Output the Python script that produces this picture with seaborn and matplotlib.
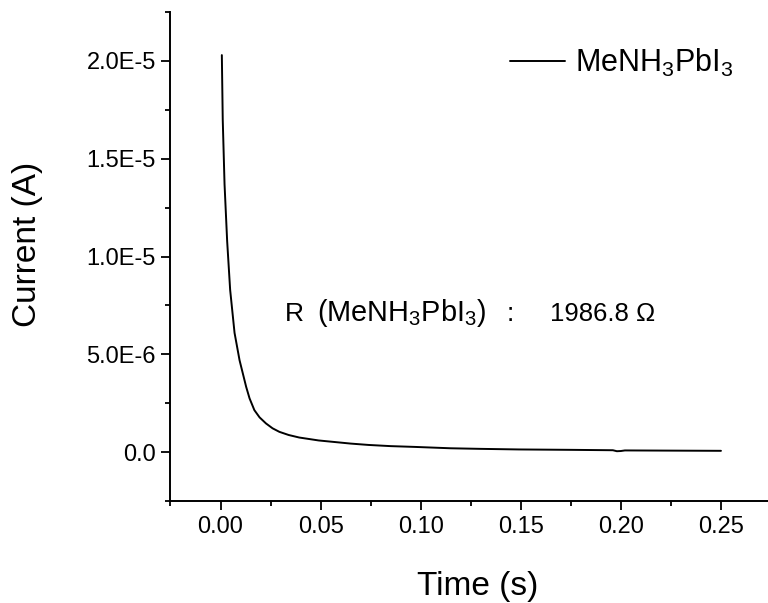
import numpy as np
import pandas as pd
import matplotlib
matplotlib.use("Agg")
import matplotlib.pyplot as plt
import seaborn as sns
from matplotlib.ticker import MultipleLocator, FuncFormatter

# transient current (time in s, current in A)
time_s = [0.00065, 0.0011, 0.002, 0.0033, 0.0048, 0.007, 0.0095, 0.0128,
          0.0145, 0.0169, 0.0195, 0.0227, 0.026, 0.0294, 0.034, 0.0393,
          0.049, 0.056, 0.065, 0.074, 0.085, 0.097, 0.115, 0.13, 0.149,
          0.175, 0.196, 0.198, 0.2, 0.202, 0.225, 0.25]
current_uA = [20.3, 17.0, 13.7, 10.8, 8.3, 6.1, 4.7, 3.34,
              2.75, 2.15, 1.78, 1.47, 1.22, 1.04, 0.88, 0.75,
              0.60, 0.53, 0.44, 0.37, 0.31, 0.27, 0.20, 0.17, 0.14,
              0.12, 0.10, 0.05, 0.06, 0.09, 0.08, 0.07]
current_A = [v * 1e-6 for v in current_uA]

series_label = r"MeNH$\mathregular{_3}$PbI$\mathregular{_3}$"
# resistance note, split in pieces as spaced in the original
note_parts = ["R", r"(MeNH$\mathregular{_3}$PbI$\mathregular{_3}$)", ":", "1986.8 Ω"]
note_x = [0.1916, 0.2452, 0.563, 0.635]
note_size = [19, 20.8, 19, 18.5]

sns.set_style("ticks")
plt.rcParams["font.family"] = ["Liberation Sans", "DejaVu Sans"]
plt.rcParams["mathtext.fontset"] = "custom"
plt.rcParams["mathtext.rm"] = "Liberation Sans"
plt.rcParams["mathtext.it"] = "Liberation Sans"
plt.rcParams["text.color"] = "black"
plt.rcParams["axes.labelcolor"] = "black"

df = pd.DataFrame({"time": time_s, "current": current_A})

fig = plt.figure(figsize=(7.68, 6.03), dpi=100)
ax = fig.add_axes([0.222, 0.169, 0.778, 0.811])

sns.lineplot(data=df, x="time", y="current", ax=ax, color="black",
             linewidth=1.4, estimator=None, sort=False, label=series_label)

ax.set_xlim(-0.025, 0.2735)
ax.set_ylim(-2.5e-6, 2.25e-5)

ax.xaxis.set_major_locator(MultipleLocator(0.05))
ax.xaxis.set_minor_locator(MultipleLocator(0.025))
ax.yaxis.set_major_locator(MultipleLocator(5e-6))
ax.yaxis.set_minor_locator(MultipleLocator(2.5e-6))


def sci_fmt(v, pos):
    if abs(v) < 1e-12:
        return "0.0"
    exp = int(np.floor(np.log10(abs(v))))
    mant = v / 10 ** exp
    return f"{mant:.1f}E{exp}"


ax.xaxis.set_major_formatter(FuncFormatter(lambda v, p: f"{v:.2f}"))
ax.yaxis.set_major_formatter(FuncFormatter(sci_fmt))

ax.tick_params(which="major", direction="out", length=6.5, width=1.3,
               labelsize=17, colors="black", labelcolor="black", pad=4)
ax.tick_params(which="minor", direction="out", length=3.6, width=1.3,
               colors="black")

for side in ["top", "right"]:
    ax.spines[side].set_visible(False)
for side in ["left", "bottom"]:
    ax.spines[side].set_linewidth(1.4)
    ax.spines[side].set_color("black")

ax.set_xlabel("")
ax.set_ylabel("")
fig.text(478 / 768, 1 - 586 / 603, "Time (s)", fontsize=24,
         ha="center", va="center", color="black")
fig.text(28 / 768, 1 - 244 / 603, "Current (A)", fontsize=24,
         ha="center", va="center", rotation=90, color="black")

for part, x, size in zip(note_parts, note_x, note_size):
    ax.text(x, 0.368, part, transform=ax.transAxes, fontsize=size,
            ha="left", va="baseline", color="black")

leg = ax.legend(loc="center left", bbox_to_anchor=(0.569, 0.896),
                frameon=False, fontsize=22, handlelength=1.8,
                handletextpad=0.3, borderpad=0, borderaxespad=0)
for t in leg.get_texts():
    t.set_color("black")

fig.savefig("out.png", dpi=100)
